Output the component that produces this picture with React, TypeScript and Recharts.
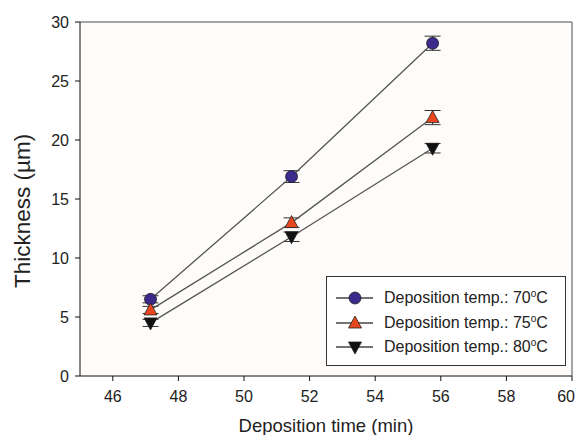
import React from 'react';
import {
  ScatterChart,
  Scatter,
  XAxis,
  YAxis,
  CartesianGrid,
  ErrorBar,
  ReferenceLine,
} from 'recharts';

// deposition times (min)
const times = [47.15, 51.45, 55.75];

// thickness (um) and error per temperature
const thick70 = [6.5, 16.9, 28.2];
const err70 = [0.3, 0.5, 0.6];
const thick75 = [5.6, 13.0, 21.9];
const err75 = [0.3, 0.4, 0.6];
const thick80 = [4.5, 11.8, 19.3];
const err80 = [0.3, 0.4, 0.4];

const xTicks = [46, 48, 50, 52, 54, 56, 58, 60];
const yTicks = [0, 5, 10, 15, 20, 25, 30];

const temps = ['70', '75', '80'];

const build = (ys: number[], errs: number[]) =>
  times.map((t, i) => ({ x: t, y: ys[i], err: errs[i] }));

const COLORS = {
  c70: '#3b2a8c',
  c75: '#e8461e',
  c80: '#111111',
};

const Marker = ({ kind, cx, cy }: { kind: string; cx: number; cy: number }) => {
  if (kind === 'circle') {
    return <circle cx={cx} cy={cy} r={6} fill={COLORS.c70} stroke="#222" strokeWidth={0.8} />;
  }
  if (kind === 'up') {
    return (
      <polygon
        points={`${cx},${cy - 7} ${cx - 6.5},${cy + 5} ${cx + 6.5},${cy + 5}`}
        fill={COLORS.c75}
        stroke="#222"
        strokeWidth={0.8}
      />
    );
  }
  return (
    <polygon
      points={`${cx},${cy + 7} ${cx - 6.5},${cy - 5} ${cx + 6.5},${cy - 5}`}
      fill={COLORS.c80}
      stroke="#222"
      strokeWidth={0.8}
    />
  );
};

// last x tick would run off the page, so anchor it at its end
const XTick = (props: any) => {
  const { x, y, payload } = props;
  const last = payload.value === xTicks[xTicks.length - 1];
  return (
    <text
      x={last ? x + 3 : x}
      y={y}
      dy="0.71em"
      textAnchor={last ? 'end' : 'middle'}
      fill="#222"
      fontSize={16}
    >
      {payload.value}
    </text>
  );
};

const series = [
  { name: '70', kind: 'circle', data: build(thick70, err70) },
  { name: '75', kind: 'up', data: build(thick75, err75) },
  { name: '80', kind: 'down', data: build(thick80, err80) },
];

const LegendBox = () => (
  <div
    style={{
      position: 'absolute',
      left: 318,
      top: 268,
      border: '1px solid #333',
      background: '#fff',
      width: 238,
      padding: '9px 0 5px 0',
      fontFamily: 'Liberation Sans, Arial, sans-serif',
      fontSize: 16,
      color: '#222',
    }}
  >
    {series.map((s, i) => (
      <div key={s.name} style={{ display: 'flex', alignItems: 'center', height: 24.5 }}>
        <svg width={56} height={20} style={{ marginRight: 1 }}>
          <line x1={9} y1={10} x2={46} y2={10} stroke="#444" strokeWidth={1.3} />
          <Marker kind={s.kind} cx={28} cy={10} />
        </svg>
        <span style={{ whiteSpace: 'nowrap' }}>
          Deposition temp.: {temps[i]}
          <sup style={{ fontSize: 10, lineHeight: 0 }}>o</sup>C
        </span>
      </div>
    ))}
  </div>
);

export default function App() {
  return (
    <div style={{ position: 'relative', width: 567, height: 427, background: '#fff' }}>
      <ScatterChart
        width={567}
        height={427}
        margin={{ top: 14, right: 3, bottom: 29, left: 8 }}
        style={{ fontFamily: 'Liberation Sans, Arial, sans-serif' }}
      >
        <CartesianGrid horizontal={false} vertical={false} fill="#fdfcfa" />
        <XAxis
          type="number"
          dataKey="x"
          domain={[45, 60]}
          ticks={xTicks}
          interval={0}
          allowDataOverflow
          stroke="#111"
          tickSize={5}
          tickMargin={10}
          tick={<XTick />}
          label={{
            value: 'Deposition time (min)',
            position: 'bottom',
            offset: 13,
            fill: '#222',
            fontSize: 18.5,
          }}
        />
        <YAxis
          type="number"
          dataKey="y"
          domain={[0, 30]}
          ticks={yTicks}
          interval={0}
          width={64}
          stroke="#111"
          tickSize={5}
          tickMargin={6}
          tick={{ fill: '#222', fontSize: 16 }}
          label={{
            value: 'Thickness (\u00b5m)',
            angle: -90,
            position: 'insideLeft',
            offset: 6,
            dy: 89,
            fill: '#222',
            fontSize: 22.5,
          }}
        />
        <ReferenceLine y={30} stroke="#888" strokeWidth={1.5} />
        <ReferenceLine x={60} stroke="#888" strokeWidth={1.5} />
        {series.map((s) => (
          <Scatter
            key={s.name}
            name={s.name}
            data={s.data}
            line={{ stroke: '#555', strokeWidth: 1.3 }}
            lineType="joint"
            isAnimationActive={false}
            shape={(p: any) => <Marker kind={s.kind} cx={p.cx} cy={p.cy} />}
          >
            <ErrorBar dataKey="err" direction="y" width={8} stroke="#333" strokeWidth={1} />
          </Scatter>
        ))}
      </ScatterChart>
      <LegendBox />
    </div>
  );
}
